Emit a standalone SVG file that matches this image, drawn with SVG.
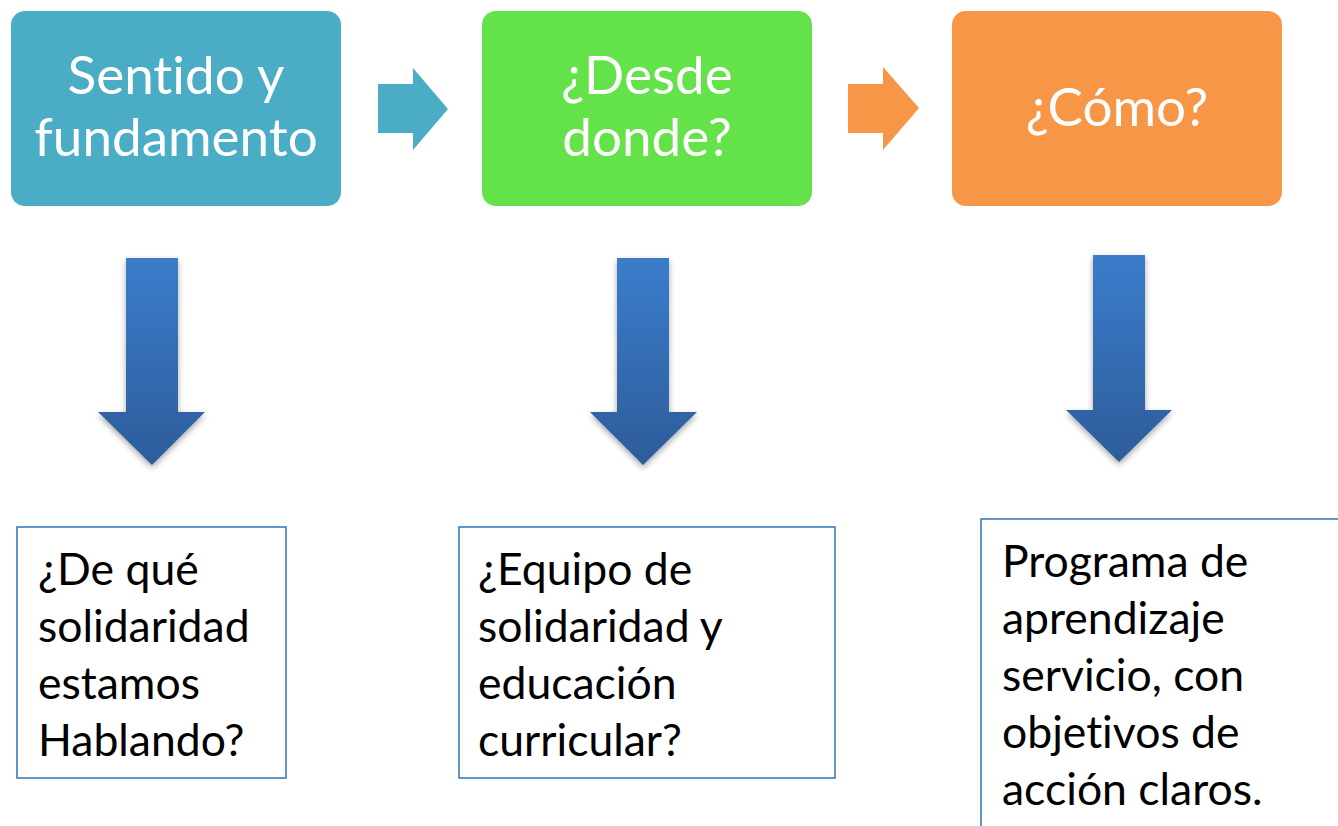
<svg xmlns="http://www.w3.org/2000/svg" width="1338" height="826" viewBox="0 0 1338 826">
<defs>
<linearGradient id="down" x1="0" y1="0" x2="0" y2="1">
<stop offset="0" stop-color="#3B7DCB"/>
<stop offset="1" stop-color="#2C5C9A"/>
</linearGradient>
<filter id="sh" x="-30%" y="-10%" width="160%" height="130%">
<feGaussianBlur in="SourceAlpha" stdDeviation="3"/>
<feOffset dx="0" dy="3"/>
<feComponentTransfer><feFuncA type="linear" slope="0.35"/></feComponentTransfer>
<feMerge><feMergeNode/><feMergeNode in="SourceGraphic"/></feMerge>
</filter>
</defs>
<style>
text{font-variant-ligatures:none;font-feature-settings:"liga" 0}
.top{font-family:Lato,"Liberation Sans",sans-serif;font-size:53px;fill:#ffffff;text-anchor:middle}
.bot{font-family:Lato,"Liberation Sans",sans-serif;font-size:44.5px;fill:#000000}
.box{fill:#ffffff;stroke:#2E75B6;stroke-width:1.5}
.darr{fill:url(#down);filter:url(#sh)}
</style>
<rect width="1338" height="826" fill="#ffffff"/>
<g id="n1"><rect x="11" y="11" width="330" height="195" rx="14" fill="#4BACC6"/><text class="top" x="176" y="94">Sentido y</text><text class="top" x="176" y="156">fundamento</text></g>
<g id="n2"><rect x="482" y="11" width="330" height="195" rx="14" fill="#63E24A"/><text class="top" x="647" y="94">¿Desde</text><text class="top" x="647" y="156">donde?</text></g>
<g id="n3"><rect x="952" y="11" width="330" height="195" rx="14" fill="#F79646"/><text class="top" x="1117" y="126">¿Cómo?</text></g>
<g id="n4"><rect class="box" x="17" y="527" width="269" height="251"/><text class="bot" x="38" y="585">¿De qué</text><text class="bot" x="38" y="642">solidaridad</text><text class="bot" x="38" y="699">estamos</text><text class="bot" x="38" y="756">Hablando?</text></g>
<g id="n5"><rect class="box" x="459" y="527" width="376" height="251"/><text class="bot" x="478" y="585">¿Equipo de</text><text class="bot" x="478" y="642">solidaridad y</text><text class="bot" x="478" y="699">educación</text><text class="bot" x="478" y="756">curricular?</text></g>
<g id="n6"><rect class="box" x="981" y="519" width="380" height="330"/><text class="bot" x="1002" y="577">Programa de</text><text class="bot" x="1002" y="634">aprendizaje</text><text class="bot" x="1002" y="691">servicio, con</text><text class="bot" x="1002" y="748">objetivos de</text><text class="bot" x="1002" y="805">acción claros.</text></g>
<g id="connectors">
<polygon points="378,84 413,84 413,68 448,109 413,150 413,133 378,133" fill="#4BACC6"/>
<polygon points="848,84 883,84 883,67 919,108 883,150 883,133 848,133" fill="#F79646"/>
<polygon class="darr" points="126,258 178,258 178,412 205,412 152,465 98,412 126,412"/>
<polygon class="darr" points="617,258 669,258 669,412 697,412 643,465 590,412 617,412"/>
<polygon class="darr" points="1093,255 1145,255 1145,410 1172,410 1119,462 1066,410 1093,410"/>
</g>
</svg>
